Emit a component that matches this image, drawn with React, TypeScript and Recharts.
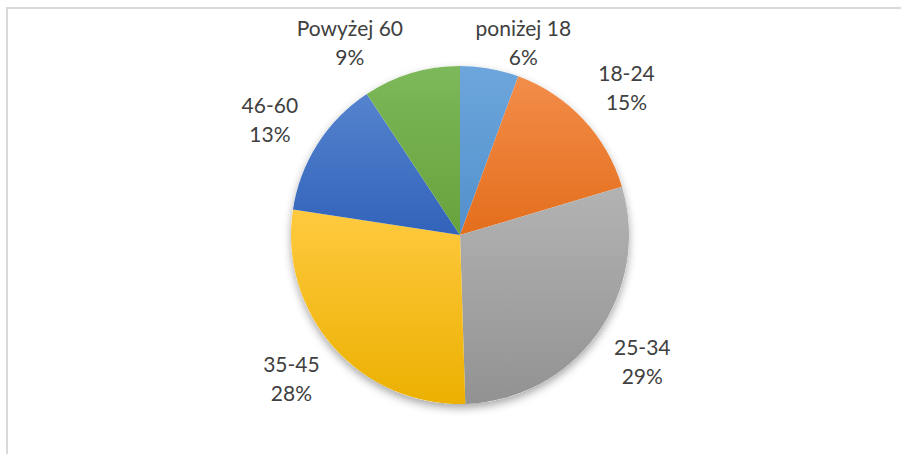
import React from 'react';
import { PieChart, Pie, Cell } from 'recharts';

const categories = ['poniżej 18', '18-24', '25-34', '35-45', '46-60', 'Powyżej 60'];
const shares = [5.6, 14.8, 29.1, 27.9, 13.3, 9.3];
const topColors = ['#6DA6DC', '#F28D4A', '#B3B3B3', '#FFCA40', '#5583CE', '#7DB85A'];
const bottomColors = ['#5290CC', '#E46E1C', '#929292', '#EBB000', '#3163BA', '#67A23B'];
// label angle nudges (degrees, clockwise) mimicking Excel's collision avoidance at the top
const labelShift = [6.5, 1.8, -1, 1, -1.5, -13];

const data = categories.map((name, i) => ({ name, value: shares[i] }));
const full = [{ name: 'all', value: 1 }];

const RAD = Math.PI / 180;
const LABEL_R = 222;
const MIN_LABEL_Y = 43;

const renderLabel = (props: any) => {
  const { cx, cy, midAngle, index, percent } = props;
  const ang = midAngle - labelShift[index];
  const x = cx + LABEL_R * Math.cos(-ang * RAD);
  let y = cy + LABEL_R * Math.sin(-ang * RAD);
  if (y < MIN_LABEL_Y) y = MIN_LABEL_Y;
  return (
    <text
      x={x}
      y={y}
      textAnchor="middle"
      fill="#404040"
      fontFamily="Lato, 'Open Sans', sans-serif"
      fontSize={21}
    >
      <tspan x={x} y={y - 7}>{categories[index]}</tspan>
      <tspan x={x} y={y + 22}>{Math.round(percent * 100)}%</tspan>
    </text>
  );
};

export default function App() {
  return (
    <div style={{ position: 'absolute', left: 0, top: 0, width: 901, height: 454, overflow: 'hidden', background: '#fff' }}>
      <div
        style={{
          position: 'absolute',
          left: 6,
          top: 7,
          width: 1200,
          height: 1200,
          borderTop: '2px solid #D9D9D9',
          borderLeft: '2px solid #D9D9D9',
          boxSizing: 'border-box',
        }}
      />
      <div style={{ position: 'absolute', left: 0, top: 0 }}>
        <PieChart width={901} height={454} margin={{ top: 0, right: 0, bottom: 0, left: 0 }}>
          <defs>
            <filter id="pieShadow" x="-20%" y="-20%" width="140%" height="140%">
              <feDropShadow dx="0" dy="4" stdDeviation="4" floodColor="#000" floodOpacity="0.35" />
            </filter>
            {topColors.map((c, i) => (
              <linearGradient key={i} id={`grad${i}`} x1="0" y1="0" x2="0" y2="1">
                <stop offset="0%" stopColor={topColors[i]} />
                <stop offset="100%" stopColor={bottomColors[i]} />
              </linearGradient>
            ))}
          </defs>
          <Pie
            data={full}
            dataKey="value"
            cx={460}
            cy={235}
            outerRadius={169}
            startAngle={90}
            endAngle={-270}
            stroke="none"
            isAnimationActive={false}
            label={false}
            labelLine={false}
          >
            <Cell fill="#ffffff" filter="url(#pieShadow)" />
          </Pie>
          <Pie
            data={data}
            dataKey="value"
            nameKey="name"
            cx={460}
            cy={235}
            outerRadius={169}
            startAngle={90}
            endAngle={-270}
            stroke="none"
            isAnimationActive={false}
            label={renderLabel}
            labelLine={false}
          >
            {data.map((d, i) => (
              <Cell key={d.name} fill={`url(#grad${i})`} />
            ))}
          </Pie>
        </PieChart>
      </div>
    </div>
  );
}
